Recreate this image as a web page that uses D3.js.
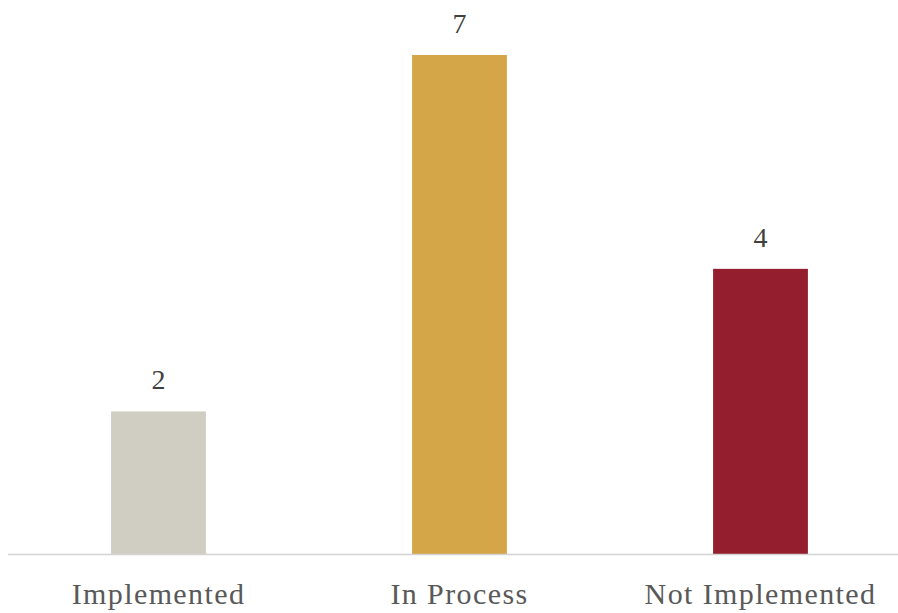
<!DOCTYPE html>
<html>
<head>
<meta charset="utf-8">
<script src="https://cdn.jsdelivr.net/npm/d3@7"></script>
<style>
  body { margin: 0; background: #fff; }
</style>
</head>
<body>
<div id="canvas"></div>
<script>
"use strict"

/* Data */
let categories = ["Implemented", "In Process", "Not Implemented"]
let counts = [2, 7, 4]
let barColors = ["#D0CEC3", "#D4A647", "#941E2D"]

/* Canvas */
let svgWidth = 898
let svgHeight = 613
let baseY = 554

let svg = d3.select("#canvas")
    .append("svg")
    .attr("width", svgWidth)
    .attr("height", svgHeight)

/* Scales */
let xScale = d3.scaleBand()
    .domain(categories)
    .range([8, 911])
    .paddingInner(0.685)
    .paddingOuter(0.3425)

let yScale = d3.scaleLinear()
    .domain([0, 7])
    .range([baseY, 55])

/* Bars */
svg.selectAll("rect.bar")
    .data(categories)
    .join("rect")
    .attr("class", "bar")
    .attr("x", d => xScale(d))
    .attr("y", (d, i) => yScale(counts[i]))
    .attr("width", xScale.bandwidth())
    .attr("height", (d, i) => baseY - yScale(counts[i]))
    .attr("fill", (d, i) => barColors[i])

/* Baseline */
svg.append("line")
    .attr("x1", 8)
    .attr("x2", svgWidth)
    .attr("y1", baseY + 0.5)
    .attr("y2", baseY + 0.5)
    .attr("stroke", "#D3D3D3")
    .attr("stroke-width", 1.5)

/* Value labels */
svg.selectAll("text.value")
    .data(categories)
    .join("text")
    .attr("class", "value")
    .attr("x", d => xScale(d) + xScale.bandwidth() / 2)
    .attr("y", (d, i) => yScale(counts[i]) - 22)
    .attr("text-anchor", "middle")
    .attr("font-family", "'Liberation Serif', 'DejaVu Serif', serif")
    .attr("font-size", "28px")
    .attr("fill", "#404040")
    .text((d, i) => counts[i])

/* Category labels - letter spacing widens Liberation Serif toward the original Palatino look */
svg.selectAll("text.cat")
    .data(categories)
    .join("text")
    .attr("class", "cat")
    .attr("x", d => xScale(d) + xScale.bandwidth() / 2)
    .attr("y", 604)
    .attr("text-anchor", "middle")
    .attr("font-family", "'Liberation Serif', 'DejaVu Serif', serif")
    .attr("font-size", "30px")
    .attr("letter-spacing", "1.4px")
    .attr("fill", "#595959")
    .text(d => d)
</script>
</body>
</html>
